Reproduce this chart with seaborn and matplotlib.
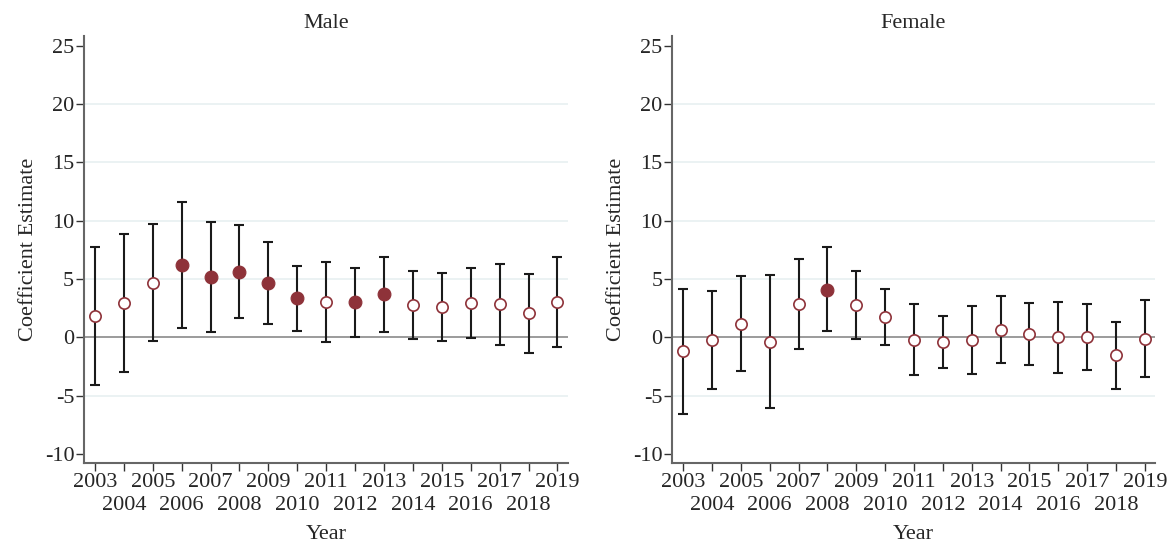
import numpy as np
import pandas as pd
import matplotlib
matplotlib.use("Agg")
import matplotlib.pyplot as plt
import seaborn as sns

years = list(range(2003, 2020))
male_est = [1.84, 2.93, 4.66, 6.18, 5.14, 5.63, 4.63, 3.33, 3.02, 2.99, 3.68, 2.73, 2.61, 2.93, 2.84, 2.07, 3.05]
male_lo = [-4.1, -2.99, -0.34, 0.83, 0.43, 1.67, 1.18, 0.52, -0.37, 0.06, 0.49, -0.17, -0.29, -0.06, -0.63, -1.38, -0.83]
male_hi = [7.73, 8.85, 9.71, 11.6, 9.86, 9.63, 8.13, 6.15, 6.47, 5.92, 6.87, 5.66, 5.49, 5.92, 6.26, 5.43, 6.87]
female_est = [-1.21, -0.26, 1.15, -0.37, 2.82, 4.08, 2.79, 1.72, -0.20, -0.40, -0.23, 0.66, 0.32, 0.0, 0.0, -1.52, -0.14]
female_lo = [-6.61, -4.45, -2.87, -6.03, -1.03, 0.52, -0.14, -0.69, -3.22, -2.64, -3.13, -2.24, -2.39, -3.07, -2.76, -4.40, -3.42]
female_hi = [4.14, 3.99, 5.23, 5.37, 6.67, 7.7, 5.66, 4.11, 2.87, 1.87, 2.67, 3.51, 2.93, 3.05, 2.82, 1.32, 3.19]
panels = ["Male", "Female"]
yticks = [-10, -5, 0, 5, 10, 15, 20, 25]

sns.set_theme(style="white")
plt.rcParams["font.family"] = ["Liberation Serif", "DejaVu Serif"]
plt.rcParams["axes.unicode_minus"] = False

fig = plt.figure(figsize=(11.75, 5.49), dpi=100)
positions = [[0.0715, 0.157, 0.4115, 0.777], [0.572, 0.157, 0.411, 0.777]]
red = "#8E3239"
data = {"Male": (male_est, male_lo, male_hi), "Female": (female_est, female_lo, female_hi)}
fs = 16

for name, pos in zip(panels, positions):
    ax = fig.add_axes(pos)
    est, lo, hi = data[name]
    df = pd.DataFrame({"year": years, "est": est, "lo": lo, "hi": hi})
    df["sig"] = (df["lo"] > 0) | (df["hi"] < 0)
    for g in [-5, 5, 10, 15, 20]:
        ax.axhline(g, color="#E8F0F1", lw=1.2, zorder=0)
    ax.axhline(0, color="#8A8A8A", lw=1.2, zorder=1)
    ax.errorbar(df["year"], df["est"], yerr=[df["est"] - df["lo"], df["hi"] - df["est"]],
                fmt="none", ecolor="#1a1a1a", elinewidth=1.5, capsize=3.4, capthick=1.5, zorder=2)
    ns = df[~df["sig"]]
    sg = df[df["sig"]]
    sns.scatterplot(x=ns["year"], y=ns["est"], ax=ax, marker="o", s=66,
                    facecolor="white", edgecolor=red, linewidth=1.2, zorder=3)
    sns.scatterplot(x=sg["year"], y=sg["est"], ax=ax, marker="o", s=85,
                    color=red, edgecolor=red, linewidth=0.8, zorder=3)
    ax.set_xlim(2002.62, 2019.35)
    ax.set_ylim(-10.75, 25.8)
    ax.set_yticks(yticks)
    ax.set_yticklabels([str(t) for t in yticks], fontsize=fs)
    odd = [y for y in years if (y - 2003) % 2 == 0]
    even = [y for y in years if (y - 2003) % 2 == 1]
    ax.set_xticks(odd)
    ax.set_xticklabels([str(y) for y in odd], fontsize=fs)
    ax.set_xticks(even, minor=True)
    ax.set_xticklabels([str(y) for y in even], minor=True, fontsize=fs)
    ax.tick_params(axis="both", which="both", length=6, width=1, color="#333333", direction="out",
                   bottom=True, left=True, pad=1)
    ax.tick_params(axis="x", which="minor", pad=18)
    for side in ["top", "right"]:
        ax.spines[side].set_visible(False)
    for side in ["left", "bottom"]:
        ax.spines[side].set_color("#666666")
        ax.spines[side].set_linewidth(1.5)
    ax.set_title(name, fontsize=fs, pad=6)
    ax.set_xlabel("Year", fontsize=fs, labelpad=7)
    ax.set_ylabel("Coefficient Estimate", fontsize=fs, labelpad=5)

fig.savefig("out.png", dpi=100, facecolor="white")
